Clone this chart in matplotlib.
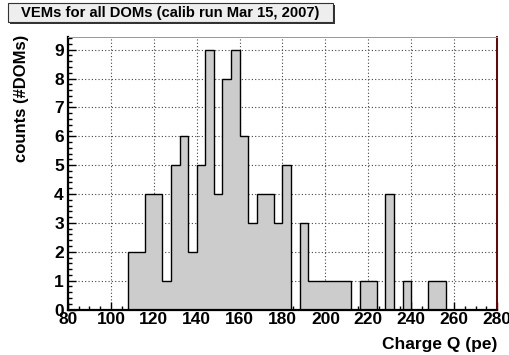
import matplotlib
matplotlib.use("Agg")
import matplotlib.pyplot as plt
from matplotlib.patches import Rectangle
from matplotlib.ticker import MultipleLocator

plt.rcParams["font.family"] = ["Liberation Sans", "DejaVu Sans"]
plt.rcParams["font.weight"] = "bold"

# histogram data: 50 bins of 4 pe from 80 to 280
bin_edges = list(range(80, 284, 4))
counts = [0, 0, 0, 0, 0, 0, 0,
          2, 2, 4, 4, 1, 5, 6, 2, 5, 9, 4, 8, 9,
          6, 3, 4, 4, 3, 5, 0, 3, 1, 1, 1, 1, 1,
          0, 1, 1, 0, 4, 0, 1, 0, 0, 1, 1,
          0, 0, 0, 0, 0, 0]

title = "VEMs for all DOMs (calib run Mar 15, 2007)"
xlabel = "Charge Q (pe)"
ylabel = "counts (#DOMs)"

W, H = 510, 355
fig = plt.figure(figsize=(W / 100, H / 100), dpi=100)
ax = fig.add_axes([68 / W, 1 - 309.5 / H, (497 - 68) / W, (309.5 - 36.7) / H])

ax.stairs(counts, bin_edges, fill=True, color="#cccccc", zorder=2)
ax.stairs(counts, bin_edges, color="black", linewidth=1.0, zorder=3)

ax.set_xlim(80, 280)
ax.set_ylim(0, 9.45)
ax.xaxis.set_major_locator(MultipleLocator(20))
ax.xaxis.set_minor_locator(MultipleLocator(5))
ax.yaxis.set_major_locator(MultipleLocator(1))
ax.yaxis.set_minor_locator(MultipleLocator(0.2))
ax.tick_params(which="both", direction="in", top=False, right=False,
               labelsize=12.5, width=1)
ax.tick_params(which="major", length=6)
ax.tick_params(which="minor", length=3)
ax.tick_params(axis="x", pad=2)
ax.tick_params(axis="y", pad=3)
for lab in ax.get_xticklabels() + ax.get_yticklabels():
    lab.set_fontweight("bold")

ax.grid(True, which="major", linestyle=(0, (1, 2)), color="#444444",
        linewidth=0.8)
ax.set_axisbelow(True)

ax.spines["left"].set_linewidth(1.6)
ax.spines["bottom"].set_linewidth(1.6)
ax.spines["top"].set_color("#d08080")
ax.spines["top"].set_linewidth(0.7)
ax.spines["right"].set_color("#660000")
ax.spines["right"].set_linewidth(1.4)

fig.text(497 / W, 1 - 344 / H, xlabel, ha="right", va="center",
         fontsize=12.5, fontweight="bold")
fig.text(22 / W, 1 - 35 / H, ylabel, ha="center", va="top", rotation=90,
         fontsize=12, fontweight="bold")

# title box with shadow
fig.patches.append(Rectangle((10 / W, 1 - 24 / H), 325 / W, 19 / H,
                             transform=fig.transFigure, facecolor="#333333",
                             edgecolor="none"))
fig.patches.append(Rectangle((8 / W, 1 - 22 / H), 325 / W, 19 / H,
                             transform=fig.transFigure, facecolor="#eeeeee",
                             edgecolor="#333333", linewidth=0.8))
fig.text(170.5 / W, 1 - 12.5 / H, title, ha="center", va="center",
         fontsize=10.6, fontweight="bold")

fig.savefig("out.png", dpi=100)
